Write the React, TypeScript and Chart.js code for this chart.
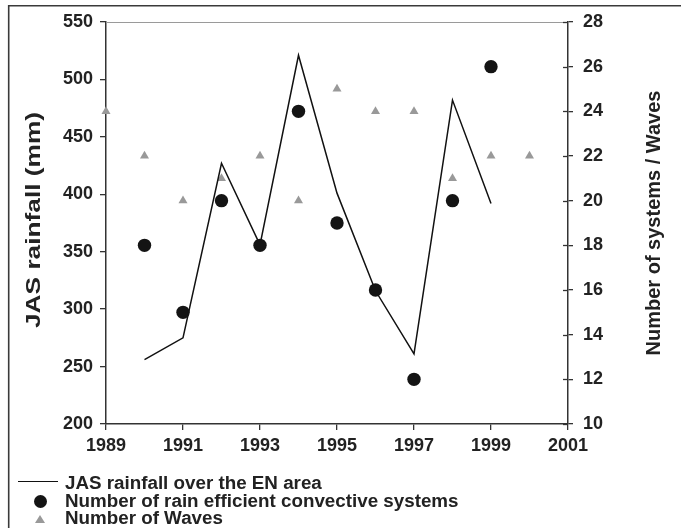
import React, { useEffect, useRef } from "react";
import { Chart, registerables } from "chart.js";

Chart.register(...registerables);

// ---- data ----
const rainYears = [1990, 1991, 1992, 1993, 1994, 1995, 1996, 1997, 1998, 1999];
const rainfall = [256, 275, 427, 356, 521, 401, 316, 261, 482, 392];

const systemYears = [1990, 1991, 1992, 1993, 1994, 1995, 1996, 1997, 1998, 1999];
const systems = [18, 15, 20, 18, 24, 19, 16, 12, 20, 26];

const waveYears = [1989, 1990, 1991, 1992, 1993, 1994, 1995, 1996, 1997, 1998, 1999, 2000];
const waves = [24, 22, 20, 21, 22, 20, 25, 24, 24, 21, 22, 22];

const xTickLabels = ["1989", "1991", "1993", "1995", "1997", "1999", "2001"];
const leftTickLabels = ["200", "250", "300", "350", "400", "450", "500", "550"];
const rightTickLabels = ["10", "12", "14", "16", "18", "20", "22", "24", "26", "28"];

const legendLabels = [
  "JAS rainfall over the EN area",
  "Number of rain efficient convective systems",
  "Number of Waves",
];
const leftTitle = "JAS rainfall (mm)";
const rightTitle = "Number of systems / Waves";

const FONT = '"Liberation Sans", Arial, Helvetica, sans-serif';
const TEXT = "#222";
const AXIS = "#333";

const decorPlugin = {
  id: "decor",
  afterDraw(chart: any) {
    const ctx = chart.ctx;
    const { left, right, top, bottom } = chart.chartArea;
    ctx.save();
    // outer figure frame (top + left)
    ctx.strokeStyle = "#3a3a3a";
    ctx.lineWidth = 1.6;
    ctx.beginPath();
    ctx.moveTo(8.7, 528);
    ctx.lineTo(8.7, 5.7);
    ctx.lineTo(681, 5.7);
    ctx.stroke();
    // top border of plot
    ctx.strokeStyle = "#9a9a9a";
    ctx.lineWidth = 1;
    ctx.beginPath();
    ctx.moveTo(left, top + 0.5);
    ctx.lineTo(right, top + 0.5);
    ctx.stroke();
    // inner halves of right-axis ticks
    const y1 = chart.scales.y1;
    ctx.strokeStyle = AXIS;
    ctx.lineWidth = 1.3;
    y1.ticks.forEach((t: any) => {
      const py = Math.round(y1.getPixelForValue(t.value)) + 0.5;
      ctx.beginPath();
      ctx.moveTo(right - 5, py);
      ctx.lineTo(right, py);
      ctx.stroke();
    });
    ctx.font = `bold 20px ${FONT}`;
    ctx.fillStyle = TEXT;
    ctx.textAlign = "center";
    ctx.textBaseline = "middle";
    // left axis title (reads bottom to top, drawn wide as in the reference)
    ctx.save();
    ctx.translate(34, (top + bottom) / 2 - 3);
    ctx.rotate(-Math.PI / 2);
    const w = ctx.measureText(leftTitle).width;
    ctx.scale(216 / w, 1);
    ctx.fillText(leftTitle, 0, 0);
    ctx.restore();
    // right axis title (reads bottom to top)
    ctx.translate(654, (top + bottom) / 2);
    ctx.rotate(-Math.PI / 2);
    ctx.fillText(rightTitle, 0, 0);
    ctx.restore();
  },
};

function App() {
  const ref = useRef<HTMLCanvasElement | null>(null);

  useEffect(() => {
    const canvas = ref.current;
    if (!canvas) return;
    const chart = new Chart(canvas, {
      type: "scatter",
      data: {
        datasets: [
          {
            label: legendLabels[1],
            data: systemYears.map((x, i) => ({ x, y: systems[i] })),
            yAxisID: "y1",
            pointStyle: "circle",
            pointRadius: 6.7,
            pointBackgroundColor: "#141414",
            pointBorderColor: "#141414",
            pointBorderWidth: 0,
            showLine: false,
            clip: false,
          } as any,
          {
            label: legendLabels[0],
            type: "line",
            data: rainYears.map((x, i) => ({ x, y: rainfall[i] })),
            yAxisID: "y",
            borderColor: "#111",
            borderWidth: 1.5,
            pointRadius: 0,
            tension: 0,
            fill: false,
            clip: false,
          } as any,
          {
            label: legendLabels[2],
            data: waveYears.map((x, i) => ({ x, y: waves[i] })),
            yAxisID: "y1",
            pointStyle: "triangle",
            pointRadius: 5.2,
            pointBackgroundColor: "#999",
            pointBorderColor: "#999",
            pointBorderWidth: 0,
            showLine: false,
            clip: false,
          } as any,
        ],
      },
      options: {
        responsive: false,
        animation: false,
        devicePixelRatio: 1,
        events: [],
        layout: { padding: { left: 0, right: 0, top: 22, bottom: 64 } },
        plugins: {
          legend: { display: false },
          tooltip: { enabled: false },
        },
        scales: {
          x: {
            type: "linear",
            min: 1989,
            max: 2001,
            afterBuildTicks: (s: any) => {
              s.ticks = xTickLabels.map((v) => ({ value: Number(v) }));
            },
            afterFit: (s: any) => {
              s.height = 40;
            },
            grid: { drawOnChartArea: false, drawTicks: true, tickLength: 6, color: AXIS, lineWidth: 1.3 },
            border: { display: true, color: AXIS, width: 1.5 },
            ticks: {
              autoSkip: false,
              maxRotation: 0,
              padding: 5,
              color: TEXT,
              font: { family: FONT, size: 18, weight: "bold" },
              callback: (v: any) => String(v),
            },
          },
          y: {
            type: "linear",
            position: "left",
            min: 200,
            max: 550,
            afterBuildTicks: (s: any) => {
              s.ticks = leftTickLabels.map((v) => ({ value: Number(v) }));
            },
            afterFit: (s: any) => {
              s.width = 106;
            },
            grid: { drawOnChartArea: false, drawTicks: true, tickLength: 6, color: AXIS, lineWidth: 1.3 },
            border: { display: true, color: AXIS, width: 1.5 },
            ticks: {
              padding: 7,
              color: TEXT,
              font: { family: FONT, size: 18, weight: "bold" },
              callback: (v: any) => String(v),
            },
          },
          y1: {
            type: "linear",
            position: "right",
            min: 10,
            max: 28,
            afterBuildTicks: (s: any) => {
              s.ticks = rightTickLabels.map((v) => ({ value: Number(v) }));
            },
            afterFit: (s: any) => {
              s.width = 113;
            },
            grid: { drawOnChartArea: false, drawTicks: true, tickLength: 5, color: AXIS, lineWidth: 1.3 },
            border: { display: true, color: AXIS, width: 1.5 },
            ticks: {
              padding: 10,
              color: TEXT,
              font: { family: FONT, size: 18, weight: "bold" },
              callback: (v: any) => String(v),
            },
          },
        },
      },
      plugins: [decorPlugin],
    } as any);
    return () => chart.destroy();
  }, []);

  const rowStyle: React.CSSProperties = {
    position: "absolute",
    left: 65,
    height: 17,
    lineHeight: "17px",
    font: `bold 18.8px ${FONT}`,
    color: TEXT,
    whiteSpace: "nowrap",
  };

  return (
    <div style={{ position: "fixed", left: 0, top: 0, width: 681, height: 528, background: "#fff", overflow: "hidden" }}>
      <canvas ref={ref} width={681} height={528} style={{ display: "block", width: 681, height: 528 }} />
      {/* legend */}
      <div style={{ position: "absolute", left: 18, top: 481, width: 40, height: 0, borderTop: "1.5px solid #111" }} />
      <div style={{ ...rowStyle, top: 472 }}>{legendLabels[0]}</div>
      <div
        style={{
          position: "absolute",
          left: 33.5,
          top: 495,
          width: 13,
          height: 13,
          borderRadius: "50%",
          background: "#141414",
        }}
      />
      <div style={{ ...rowStyle, top: 489.5 }}>{legendLabels[1]}</div>
      <div
        style={{
          position: "absolute",
          left: 35,
          top: 515,
          width: 0,
          height: 0,
          borderLeft: "5px solid transparent",
          borderRight: "5px solid transparent",
          borderBottom: "8px solid #999",
        }}
      />
      <div style={{ ...rowStyle, top: 507 }}>{legendLabels[2]}</div>
    </div>
  );
}

export default App;
